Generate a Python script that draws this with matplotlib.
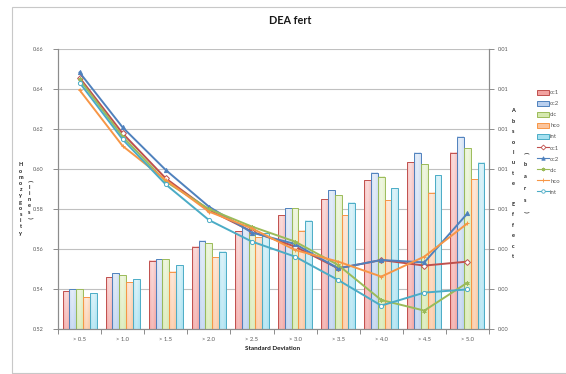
import numpy as np
import matplotlib
matplotlib.use("Agg")
import matplotlib.pyplot as plt
from matplotlib.patches import Rectangle
from matplotlib.lines import Line2D
from matplotlib.colors import to_rgb

plt.rcParams["font.family"] = ["Lato", "DejaVu Sans"]

# Standard-deviation thresholds on the x axis
categories = ["> 0.5", "> 1.0", "> 1.5", "> 2.0", "> 2.5",
              "> 3.0", "> 3.5", "> 4.0", "> 4.5", "> 5.0"]
series_names = ["cc1", "cc2", "cic", "hco", "int"]

# Absolute effect (bars, right axis)
bars_cc1 = [0.00190, 0.00258, 0.00342, 0.00412, 0.00490, 0.00570, 0.00650, 0.00745, 0.00833, 0.00882]
bars_cc2 = [0.00200, 0.00278, 0.00348, 0.00442, 0.00520, 0.00603, 0.00695, 0.00782, 0.00882, 0.00962]
bars_cic = [0.00200, 0.00270, 0.00348, 0.00428, 0.00500, 0.00603, 0.00670, 0.00762, 0.00823, 0.00903]
bars_hco = [0.00158, 0.00233, 0.00287, 0.00358, 0.00460, 0.00492, 0.00570, 0.00645, 0.00682, 0.00750]
bars_int = [0.00178, 0.00248, 0.00320, 0.00387, 0.00480, 0.00542, 0.00632, 0.00703, 0.00770, 0.00832]

# Homozygosity (lines, left axis)
lines_cc1 = [0.6457, 0.6178, 0.5953, 0.5795, 0.5687, 0.5612, 0.5503, 0.5545, 0.5517, 0.5537]
lines_cc2 = [0.6483, 0.6208, 0.5995, 0.5812, 0.5682, 0.5625, 0.5503, 0.5545, 0.5533, 0.5778]
lines_cic = [0.6448, 0.6162, 0.5937, 0.5800, 0.5712, 0.5637, 0.5520, 0.5345, 0.5292, 0.5432]
lines_hco = [0.6395, 0.6115, 0.5945, 0.5787, 0.5703, 0.5595, 0.5537, 0.5462, 0.5562, 0.5728]
lines_int = [0.6432, 0.6148, 0.5923, 0.5745, 0.5637, 0.5562, 0.5445, 0.5317, 0.5382, 0.5398]

bar_values = [bars_cc1, bars_cc2, bars_cic, bars_hco, bars_int]
line_values = [lines_cc1, lines_cc2, lines_cic, lines_hco, lines_int]

left_ticks = [0.52, 0.54, 0.56, 0.58, 0.60, 0.62, 0.64, 0.66]
right_ticks = [0.0, 0.002, 0.004, 0.006, 0.008, 0.010, 0.012, 0.014]

base_colors = ["#C0504D", "#4F81BD", "#9BBB59", "#F79646", "#4BACC6"]
bar_fill = ["#F2A2A0", "#B9CFEE", "#D5E8AE", "#FBC49C", "#A5E0F0"]
markers = ["D", "^", (6, 2, 0), "+", "o"]

W, H = 566, 374
fig = plt.figure(figsize=(W / 100, H / 100), dpi=100)

# chart-area frame
fig.patches.append(Rectangle((12 / W, 1 - 373 / H), 560 / W, 366 / H,
                             transform=fig.transFigure, fill=False,
                             edgecolor="#C8C8C8", lw=0.8))

ax_b = fig.add_axes([58 / W, 1 - 329 / H, 431 / W, 280 / H])
ax_l = ax_b.twinx()
ax_b.yaxis.tick_right()
ax_l.yaxis.tick_left()

x = np.arange(len(categories))
bw = 0.158
tick_col = "#595959"
grid_col = "#C0C0C0"

# bars with a soft gradient fill
for j, (vals, base, fill) in enumerate(zip(bar_values, base_colors, bar_fill)):
    xs = x + (j - 2) * bw
    fill_rgb = np.array(to_rgb(fill))
    for xc, v in zip(xs, vals):
        x0 = xc - bw / 2
        ny, nx = 40, 12
        ty = np.linspace(0, 1, ny)[:, None]
        tx = np.linspace(0, 1, nx)[None, :]
        w = 0.05 + 0.35 * ty + 0.25 * (1 - np.abs(2 * tx - 1))
        w = np.clip(w, 0, 0.85)
        img = fill_rgb[None, None, :] * (1 - w[..., None]) + w[..., None]
        ax_b.imshow(img, extent=[x0, x0 + bw, 0, v], origin="lower",
                    aspect="auto", zorder=2, interpolation="bilinear")
        ax_b.add_patch(Rectangle((x0, 0), bw, v, fill=False,
                                 edgecolor=base, lw=0.7, zorder=3))

# homozygosity lines
for vals, base, mk, name in zip(line_values, base_colors, markers, series_names):
    face = "white" if mk in ("o", "D") else base
    ax_l.plot(x, vals, color=base, lw=1.4, marker=mk, markersize=3,
              markerfacecolor=face, markeredgecolor=base, markeredgewidth=0.7,
              zorder=4)

ax_b.set_xlim(-0.5, len(categories) - 0.5)
ax_b.set_ylim(0, 0.014)
ax_l.set_ylim(0.52, 0.66)

ax_b.set_yticks(right_ticks)
ax_b.set_yticklabels([f"{v:.2f}" for v in right_ticks])
ax_l.set_yticks(left_ticks)
ax_l.set_yticklabels([f"{v:.2f}" for v in left_ticks])

ax_b.set_xticks(x)
ax_b.set_xticklabels(categories)
ax_b.set_xticks(np.arange(-0.5, len(categories)), minor=True)
ax_b.tick_params(axis="x", which="major", length=0, pad=6,
                 labelsize=4.2, labelcolor=tick_col)
ax_b.tick_params(axis="x", which="minor", length=3.5, color="#8C8C8C", width=0.7)
ax_b.tick_params(axis="y", length=3.5, color="#8C8C8C", width=0.7, pad=3,
                 labelsize=4.0, labelcolor=tick_col)
ax_l.tick_params(axis="y", length=3.5, color="#8C8C8C", width=0.7, pad=7,
                 labelsize=4.0, labelcolor=tick_col)

ax_b.set_axisbelow(True)
ax_b.yaxis.grid(True, color=grid_col, lw=0.8)
for a in (ax_b, ax_l):
    a.spines["top"].set_visible(False)
    for s in ("left", "right", "bottom"):
        a.spines[s].set_color("#8C8C8C")
        a.spines[s].set_linewidth(0.8)

fig.text(290 / W, 1 - 20 / H, "DEA fert", ha="center", va="center",
         fontsize=7.8, fontweight="bold", color="#1A1A1A")
fig.text(273 / W, 1 - 348 / H, "Standard Deviation", ha="center", va="center",
         fontsize=4.6, fontweight="bold", color="#1A1A1A")


def stacked(xp, ytop, text, step, size=4.0):
    for k, ch in enumerate(text):
        if ch == " ":
            continue
        rot = -90 if ch in "()" else 0
        fig.text(xp / W, 1 - (ytop + k * step) / H, ch, ha="center",
                 va="center", fontsize=size, fontweight="bold",
                 color="#1A1A1A", rotation=rot)


stacked(20.7, 165, "Homozygosity", 6.2)
stacked(29.5, 181, "(lines)", 6.2)
stacked(513, 111, "Absolute Effect", 10.4)
stacked(525, 153, "(bars)", 11.8)

handles = []
labels = []
for name, base, fill in zip(series_names, base_colors, bar_fill):
    handles.append(Rectangle((0, 0), 1, 1, facecolor=fill, edgecolor=base, lw=0.7))
    labels.append(name)
for name, base, mk in zip(series_names, base_colors, markers):
    face = "white" if mk in ("o", "D") else base
    handles.append(Line2D([], [], color=base, lw=0.8, marker=mk, markersize=2.5,
                          markerfacecolor=face, markeredgecolor=base,
                          markeredgewidth=0.6))
    labels.append(name)

fig.legend(handles, labels, loc="upper left",
           bbox_to_anchor=(537 / W, 1 - 90 / H), frameon=False,
           fontsize=4.3, handlelength=2.0, handleheight=0.8,
           handletextpad=0.2, labelspacing=0.95, borderpad=0,
           borderaxespad=0, labelcolor=tick_col)

fig.savefig("out.png", dpi=100)
